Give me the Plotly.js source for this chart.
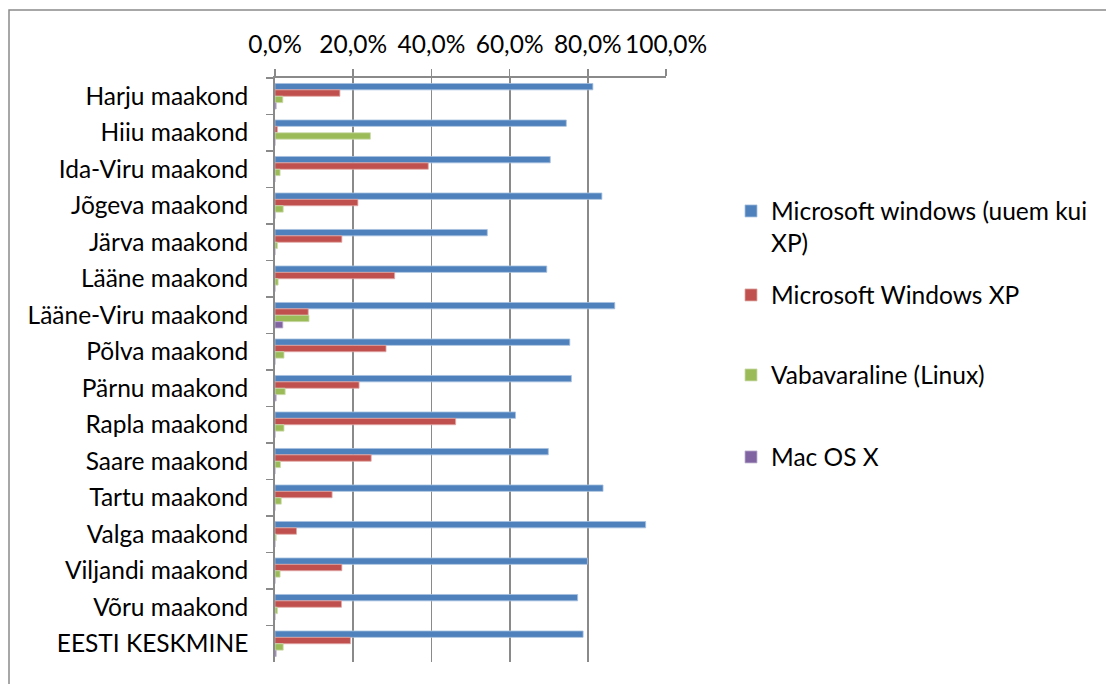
<!DOCTYPE html>
<html>
<head>
<meta charset="utf-8">
<script src="https://cdn.plot.ly/plotly-3.0.1.min.js"></script>
<style>html,body{margin:0;padding:0;background:#fff;}#chart{width:1106px;height:684px;}</style>
</head>
<body>
<div id="chart"></div>
<script>
const categories = ["Harju maakond","Hiiu maakond","Ida-Viru maakond","Jõgeva maakond","Järva maakond","Lääne maakond","Lääne-Viru maakond","Põlva maakond","Pärnu maakond","Rapla maakond","Saare maakond","Tartu maakond","Valga maakond","Viljandi maakond","Võru maakond","EESTI KESKMINE"];
const seriesNames = ["Microsoft windows (uuem kui<br>XP)","Microsoft Windows XP","Vabavaraline (Linux)","Mac OS X"];
const winNew = [0.813,0.745,0.704,0.836,0.543,0.695,0.869,0.754,0.758,0.615,0.699,0.839,0.948,0.799,0.774,0.788];
const winXP  = [0.166,0.006,0.392,0.212,0.171,0.306,0.085,0.284,0.215,0.462,0.246,0.146,0.055,0.171,0.170,0.193];
const linux  = [0.020,0.244,0.013,0.021,0.006,0.008,0.087,0.023,0.026,0.023,0.014,0.016,0.003,0.013,0.006,0.021];
const mac    = [0.003,0.000,0.000,0.000,0.000,0.000,0.020,0.000,0.003,0.000,0.000,0.000,0.000,0.000,0.000,0.003];
const tickVals = [0,0.2,0.4,0.6,0.8,1.0];

const colors = ["#4F81BD","#C0504D","#9BBB59","#8064A2"];
const edges = ["#a7c0de","#dfa8a6","#cddcac","#bfb1d0"];
const values = [winNew, winXP, linux, mac];
const legends = ["legend","legend2","legend3","legend4"];

const FONT = "Lato, 'Open Sans', sans-serif";
const FS = 24.5;
const traces = values.map((v,i)=>({
  type:"bar", orientation:"h", y:categories, x:v, name:seriesNames[i],
  marker:{color:colors[i], line:{color:edges[i], width:0.8}},
  legend:legends[i], hoverinfo:"x+y+name"
}));

const plotL=275, plotT=78, plotW=391, plotH=584;
function py(px){return (plotT+plotH-px)/plotH;}
function pxx(px){return (px-plotL)/plotW;}

const legendBase = {xanchor:"left", yanchor:"middle", font:{family:FONT,size:FS,color:"#000"}, bgcolor:"rgba(0,0,0,0)", borderwidth:0, itemclick:false, itemdoubleclick:false};
const legX = pxx(731);

const layout = {
  width:1106, height:684,
  margin:{l:plotL, r:1106-plotL-plotW, t:plotT, b:684-plotT-plotH, pad:0},
  paper_bgcolor:"#fff", plot_bgcolor:"#fff",
  barmode:"group", bargap:0.3, bargroupgap:0,
  separators:",.",
  font:{family:FONT, size:FS, color:"#000"},
  xaxis:{side:"top", range:[0,1], tickvals:tickVals, tickformat:".1%", showgrid:true, gridcolor:"#8a8a8a", gridwidth:1.8,
         showline:true, linecolor:"#8a8a8a", linewidth:1.8, ticks:"outside", ticklen:7, tickcolor:"#8a8a8a", tickwidth:1.5,
         zeroline:false, tickfont:{family:FONT,size:FS,color:"#000"}, fixedrange:true, ticklabelstandoff:6},
  yaxis:{type:"category", autorange:"reversed", showline:true, linecolor:"#8a8a8a", linewidth:1.8, ticks:"outside", ticklen:7,
         tickcolor:"#8a8a8a", tickwidth:1.5, tickson:"boundaries", showgrid:false, zeroline:false,
         tickfont:{family:FONT,size:FS,color:"#000"}, fixedrange:true, ticklabelstandoff:20},
  showlegend:true,
  legend: Object.assign({}, legendBase, {x:legX, y:py(227), valign:"top"}),
  legend2: Object.assign({}, legendBase, {x:legX, y:py(295)}),
  legend3: Object.assign({}, legendBase, {x:legX, y:py(375)}),
  legend4: Object.assign({}, legendBase, {x:legX, y:py(457)}),
  shapes:[{type:"rect", xref:"paper", yref:"paper", x0:pxx(9), x1:pxx(1130), y0:py(10), y1:py(700), line:{color:"#8a8a8a", width:1.5}, fillcolor:"rgba(0,0,0,0)", layer:"below"}]
};

Plotly.newPlot("chart", traces, layout, {displayModeBar:false, staticPlot:true});
</script>
</body>
</html>
